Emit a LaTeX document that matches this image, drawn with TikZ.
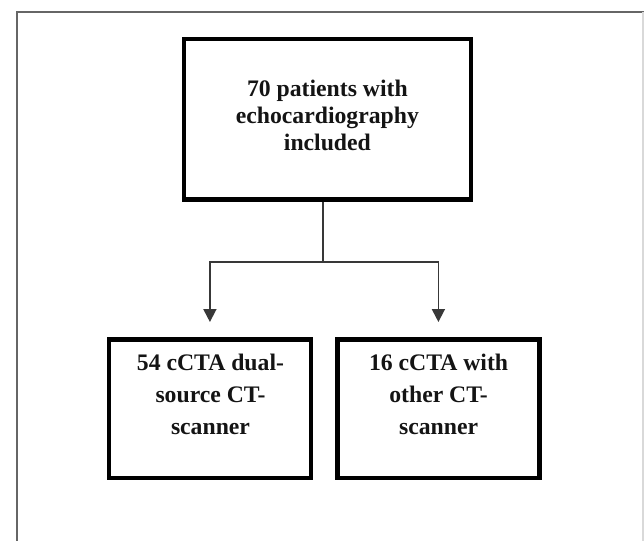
\documentclass[tikz,border=0pt]{standalone}
\usepackage{fontspec}
\setmainfont{Liberation Serif}
\usetikzlibrary{arrows.meta}
\tikzset{
  box/.style={draw=black, line width=4.5pt, rectangle, inner sep=0pt},
  txt/.style={align=center, inner sep=0pt, text=black!92,
    font=\bfseries\fontsize{23.7}{27}\selectfont},
  txtlow/.style={txt, font=\bfseries\fontsize{23.7}{32}\selectfont},
  conn/.style={draw=black!78, line width=1.8pt},
  arr/.style={conn, -{Triangle[length=13pt,width=13pt]}, shorten >=15pt},
  frame/.style={draw=black!60, line width=2pt}
}
\begin{document}
\begin{tikzpicture}[x=1pt,y=-1pt]
\useasboundingbox (0,0) rectangle (644,541);
\fill[white] (0,0) rectangle (644,541);
% outer frame
\coordinate (f1) at (644,12);
\coordinate (f2) at (17,12);
\coordinate (f3) at (17,541);
\draw[frame] (f1) -- (f2) -- (f3);
\coordinate (f4) at (643,12);
\coordinate (f5) at (643,541);
\draw[draw=black!15, line width=1.5pt] (f4) -- (f5);
% boxes
\node[box, minimum width=286.8pt, minimum height=160.5pt] (top) at (327.4,119.2) {};
\node[box, minimum width=201.8pt, minimum height=138.5pt] (left) at (209.9,408.5) {};
\node[box, minimum width=202.2pt, minimum height=138.5pt] (right) at (438.4,408.5) {};
% texts
\node[txt] (ttop) at (327.4,115.6) {70 patients with\\echocardiography\\included};
\node[txtlow] (tleft) at (210.5,394.2) {54 cCTA dual-\\source CT-\\scanner};
\node[txtlow] (tright) at (438.6,394.2) {16 cCTA with\\other CT-\\scanner};
% connectors
\coordinate (j) at (322.7,261.7);
\draw[conn] (top.south -| j) -- (j);
\draw[arr] (j) -| (left.north);
\draw[arr] (j) -| (right.north);
\end{tikzpicture}
\end{document}
